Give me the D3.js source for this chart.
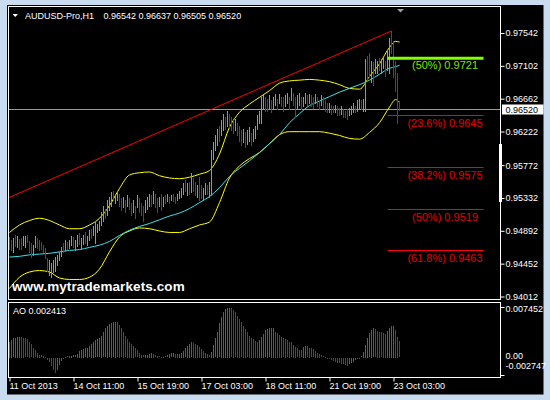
<!DOCTYPE html>
<html>
<head>
<meta charset="utf-8">
<script src="https://cdn.jsdelivr.net/npm/d3@7"></script>
<style>
  body { margin: 0; background: #c9dbee; }
  svg { display: block; }
</style>
</head>
<body>
<svg id="chart" width="550" height="400"></svg>
<script>
// ---- data -------------------------------------------------------------
const symbolName = "AUDUSD-Pro,H1";
const lastQuote = [0.96542, 0.96637, 0.96505, 0.96520]; // open, high, low, close

// hourly bar highs / lows, oldest first
const barHigh = [
  .9481,.9477,.9479,.9483,.9482,.9478,.9479,.9482,.9482,.9483,
  .9475,.9473,.9470,.9482,.9479,.9477,.9474,.9470,.9466,.9453,
  .9450,.9446,.9450,.9454,.9457,.9461,.9467,.9473,.9477,.9474,
  .9477,.9482,.9481,.9477,.9483,.9486,.9479,.9483,.9487,.9482,
  .9490,.9492,.9495,.9502,.9498,.9503,.9514,.9523,.9519,.9530,
  .9534,.9541,.9543,.9539,.9543,.9538,.9533,.9535,.9530,.9537,
  .9533,.9527,.9530,.9523,.9537,.9533,.9527,.9523,.9530,.9535,
  .9539,.9537,.9543,.9539,.9533,.9535,.9538,.9534,.9537,.9538,
  .9535,.9537,.9539,.9535,.9538,.9542,.9546,.9553,.9557,.9553,
  .9554,.9567,.9560,.9554,.9551,.9561,.9550,.9547,.9553,.9550,
  .9554,.9597,.9608,.9617,.9626,.9630,.9637,.9646,.9641,.9650,
  .9646,.9641,.9637,.9639,.9634,.9630,.9624,.9626,.9621,.9624,
  .9628,.9620,.9626,.9630,.9644,.9650,.9668,.9671,.9668,.9666,
  .9671,.9664,.9668,.9672,.9666,.9673,.9669,.9668,.9671,.9674,
  .9669,.9680,.9674,.9668,.9671,.9674,.9669,.9669,.9674,.9671,
  .9673,.9671,.9668,.9672,.9669,.9665,.9671,.9668,.9664,.9660,
  .9661,.9658,.9657,.9658,.9656,.9654,.9656,.9653,.9650,.9652,
  .9654,.9656,.9660,.9657,.9664,.9666,.9664,.9666,.9720,.9724,
  .9728,.9717,.9715,.9720,.9717,.9721,.9720,.9724,.9717,.9731,
  .9747,.9757,.9744,.9717,.9701,.96637
];
const barLow = [
  .9465,.9463,.9461,.9469,.9467,.9465,.9465,.9470,.9467,.9474,
  .9461,.9454,.9457,.9467,.9466,.9463,.9465,.9461,.9453,.9436,
  .9430,.9427,.9434,.9436,.9443,.9450,.9455,.9461,.9463,.9465,
  .9466,.9470,.9467,.9463,.9469,.9471,.9466,.9471,.9473,.9470,
  .9477,.9479,.9483,.9473,.9487,.9490,.9497,.9503,.9506,.9511,
  .9517,.9523,.9530,.9526,.9531,.9522,.9517,.9521,.9514,.9523,
  .9519,.9511,.9514,.9506,.9521,.9514,.9510,.9503,.9514,.9519,
  .9523,.9522,.9526,.9521,.9515,.9523,.9517,.9523,.9527,.9529,
  .9526,.9530,.9529,.9527,.9531,.9533,.9534,.9538,.9543,.9537,
  .9539,.9541,.9543,.9537,.9535,.9531,.9533,.9530,.9538,.9539,
  .9535,.9537,.9586,.9597,.9604,.9610,.9617,.9624,.9626,.9630,
  .9628,.9624,.9620,.9624,.9618,.9610,.9604,.9608,.9601,.9606,
  .9610,.9604,.9610,.9614,.9626,.9633,.9634,.9653,.9650,.9650,
  .9653,.9648,.9653,.9658,.9653,.9660,.9656,.9650,.9657,.9661,
  .9653,.9664,.9658,.9641,.9653,.9658,.9653,.9656,.9660,.9658,
  .9660,.9656,.9654,.9660,.9656,.9653,.9658,.9654,.9650,.9648,
  .9649,.9646,.9648,.9649,.9645,.9645,.9646,.9642,.9641,.9639,
  .9644,.9646,.9648,.9648,.9650,.9653,.9652,.9650,.9650,.9691,
  .9697,.9688,.9684,.9700,.9701,.9704,.9701,.9707,.9696,.9704,
  .9700,.9727,.9695,.9677,.9634,.96505
];
// u = bullish bar, d = bearish bar
const barSide = (
  "ddududduud" + "dduudddddd" + "uuuuuuudud" + "uuduuduudu" + "uduuuuuudu" +
  "uuduuddudu" + "ddududdduu" + "ududdududu" + "dudduuuudu" + "duddudduud" +
  "uuuuuduudu" + "dddudddudu" + "uduuuuuudd" + "uduududduu" + "dudduuduud" +
  "uddudduddd" + "uddudduddd" + "uuuduuduud" + "duduuduudu" + "uddddd"
).split("");

// Bollinger bands and moving average, read at these bar indices
const bandIdx = [0,5,10,15,20,25,30,35,40,45,50,55,60,65,70,75,80,85,90,95,
  100,105,110,115,120,125,130,135,140,145,150,155,160,165,170,175,180,185,190,193,195];
const bandUpper = [
  .9487,.9497,.9503,.9506,.9503,.9497,.9492,.9492,.9497,.9506,
  .9523,.9546,.9564,.9567,.9568,.9563,.9560,.9559,.9561,.9565,
  .9570,.9592,.9628,.9648,.9659,.9668,.9677,.9687,.9690,.9691,
  .9692,.9691,.9689,.9685,.9680,.9679,.9696,.9713,.9735,.9743,.9742];
const bandLower = [
  .9412,.9427,.9434,.9436,.9434,.9426,.9424,.9424,.9427,.9438,
  .9461,.9481,.9489,.9493,.9492,.9489,.9487,.9487,.9492,.9497,
  .9501,.9527,.9560,.9576,.9586,.9594,.9606,.9618,.9622,.9622,
  .9622,.9622,.9620,.9617,.9613,.9612,.9621,.9634,.9655,.9665,.9661];
const maLine = [
  .9454,.9455,.9457,.9458,.9459,.9461,.9463,.9464,.9467,.9470,
  .9475,.9483,.9490,.9495,.9499,.9504,.9509,.9513,.9519,.9527,
  .9535,.9547,.9562,.9573,.9583,.9594,.9606,.9618,.9634,.9646,
  .9657,.9663,.9669,.9675,.9680,.9685,.9691,.9699,.9707,.9709,.9711];

// Awesome Oscillator, one value per bar
const aoValues = [
  0.00236,0.00261,0.00286,0.00296,0.00306,0.00310,0.00306,0.00296,0.00286,0.00271,
  0.00236,0.00197,0.00146,0.00107,0.00067,0.00047,0.00037,0.00027,0.00007,-0.00023,
  -0.00063,-0.00112,-0.00171,-0.00220,-0.00182,-0.00101,-0.00042,-0.00012,0.00007,0.00018,
  0.00023,0.00027,0.00033,0.00037,0.00057,0.00097,0.00112,0.00127,0.00137,0.00146,
  0.00167,0.00206,0.00236,0.00256,0.00271,0.00286,0.00324,0.00376,0.00436,0.00474,
  0.00494,0.00514,0.00524,0.00534,0.00524,0.00484,0.00436,0.00384,0.00316,0.00276,
  0.00236,0.00206,0.00176,0.00137,0.00107,0.00067,0.00047,0.00037,0.00042,0.00047,
  0.00057,0.00077,0.00057,0.00037,0.00027,0.00018,0.00012,0.00013,0.00018,0.00037,
  0.00057,0.00063,0.00064,0.00057,0.00053,0.00057,0.00077,0.00097,0.00137,0.00176,
  0.00206,0.00227,0.00225,0.00206,0.00186,0.00157,0.00127,0.00097,0.00077,0.00057,
  0.00037,0.00087,0.00186,0.00286,0.00384,0.00510,0.00608,0.00683,0.00723,0.00737,
  0.007452,0.00733,0.00708,0.00674,0.00623,0.00574,0.00524,0.00474,0.00424,0.00376,
  0.00324,0.00296,0.00276,0.00246,0.00236,0.00266,0.00306,0.00354,0.00406,0.00424,
  0.00436,0.00438,0.00441,0.00384,0.00366,0.00336,0.00306,0.00286,0.00276,0.00256,
  0.00236,0.00227,0.00186,0.00157,0.00137,0.00116,0.00107,0.00157,0.00176,0.00167,
  0.00146,0.00137,0.00123,0.00097,0.00077,0.00057,0.00037,0.00018,0.00007,-0.00007,
  -0.00012,-0.00027,-0.00042,-0.00063,-0.00071,-0.00077,-0.00087,-0.00093,-0.00101,-0.00112,
  -0.00093,-0.00071,-0.00053,-0.00033,-0.00018,-0.00003,0.00018,0.00087,0.00186,0.00296,
  0.00361,0.00410,0.00436,0.00420,0.00400,0.00384,0.00376,0.00366,0.00354,0.00394,
  0.00444,0.00470,0.00474,0.00410,0.00310,0.002413
];

const priceTicks = [0.97542, 0.97102, 0.96662, 0.96222, 0.95772, 0.95332, 0.94892, 0.94452, 0.94012];
const aoRange = [-0.002747, 0.007452];
const timeTickIdx = [0, 32, 64, 96, 128, 160, 192];
const timeTickLabels = ["11 Oct 2013", "14 Oct 11:00", "15 Oct 19:00", "17 Oct 03:00",
                        "18 Oct 11:00", "21 Oct 19:00", "23 Oct 03:00"];

// trend line anchors: [bar index, price]
const trendPts = [[0, 0.9534], [191, 0.9757]];
// Fibonacci retracement levels
const fibRatios = ["23.6%", "38.2%", "50%", "61.8%"];
const fibValues = [0.9645, 0.9575, 0.9519, 0.9463];
const fibSpan = [189, 237];
const fibGreenRatio = "50%";
const fibGreenValue = 0.9721;

// ---- layout ------------------------------------------------------------
const FONT = "'Liberation Sans', Arial, sans-serif";
const svg = d3.select("#chart");
const box = { left: 8.5, right: 500.5, top: 6.5, bottom: 299.5 };
const aoBox = { top: 302.5, bottom: 377.5 };

const x = d3.scaleLinear().domain([0, 195]).range([9.5, 399.5]);
const y = d3.scaleLinear().domain([0.94012, 0.97542]).range([296.5, 33]);
const yAO = d3.scaleLinear().domain(aoRange).range([376.2, 307.5]);

// window background
svg.append("rect").attr("width", 550).attr("height", 400).attr("fill", "#c9dbee");
svg.append("rect").attr("x", 7).attr("y", 5).attr("width", 536.5).attr("height", 389.5).attr("fill", "#000");

const defs = svg.append("defs");
defs.append("clipPath").attr("id", "mainClip").append("rect")
  .attr("x", box.left).attr("y", box.top).attr("width", box.right - box.left).attr("height", box.bottom - box.top);

const main = svg.append("g").attr("clip-path", "url(#mainClip)");

// bid line
main.append("line")
  .attr("x1", box.left).attr("x2", box.right)
  .attr("y1", Math.round(y(lastQuote[3])) + 0.5).attr("y2", Math.round(y(lastQuote[3])) + 0.5)
  .attr("stroke", "#9a9aa2").attr("stroke-width", 1);

// trend line
const trendSlope = (trendPts[1][1] - trendPts[0][1]) / (trendPts[1][0] - trendPts[0][0]);
const trendStart = -2;
main.append("line")
  .attr("x1", x(trendStart)).attr("y1", y(trendPts[0][1] + trendSlope * (trendStart - trendPts[0][0])))
  .attr("x2", x(trendPts[1][0])).attr("y2", y(trendPts[1][1]))
  .attr("stroke", "#ff0000").attr("stroke-width", 1);

// bands + moving average
const bandLine = vals => d3.line()
  .x((d, k) => x(bandIdx[k])).y(d => y(d))
  .curve(d3.curveMonotoneX)(vals);
main.append("path").attr("d", bandLine(bandUpper)).attr("fill", "none").attr("stroke", "#ffff00").attr("stroke-width", 1);
main.append("path").attr("d", bandLine(bandLower)).attr("fill", "none").attr("stroke", "#ffff00").attr("stroke-width", 1);
main.append("path").attr("d", bandLine(maLine)).attr("fill", "none").attr("stroke", "#40e0e8").attr("stroke-width", 1);

// price bars
main.append("g").selectAll("rect").data(barHigh).join("rect")
  .attr("x", (d, i) => x(i) - 0.5)
  .attr("width", 1)
  .attr("y", d => Math.round(y(d)))
  .attr("height", (d, i) => Math.max(1, Math.round(y(barLow[i])) - Math.round(y(d)) + 1))
  .attr("fill", (d, i) => barSide[i] === "u" ? "#00ff00" : "#ff0000")
  .attr("shape-rendering", "crispEdges");

// Fibonacci levels
const fibG = svg.append("g");
const fx0 = x(fibSpan[0]), fx1 = x(fibSpan[1]);
fibValues.forEach((v, k) => {
  const ly = Math.round(y(v)) + 0.5;
  fibG.append("line").attr("x1", fx0).attr("x2", fx1).attr("y1", ly).attr("y2", ly)
    .attr("stroke", "#ff0000").attr("stroke-width", 1);
  fibG.append("text").attr("x", fx1 - 38.5).attr("y", ly + 11)
    .attr("text-anchor", "middle").attr("font-family", FONT).attr("font-size", 11)
    .attr("fill", "#e80000").text(`(${fibRatios[k]}) ${v.toFixed(4)}`);
});
{
  const gy = y(fibGreenValue) + 0.5;
  fibG.append("line").attr("x1", fx0).attr("x2", fx1).attr("y1", gy).attr("y2", gy)
    .attr("stroke", "#7fff00").attr("stroke-width", 3);
  fibG.append("text").attr("x", fx1 - 38.5).attr("y", gy + 11)
    .attr("text-anchor", "middle").attr("font-family", FONT).attr("font-size", 11)
    .attr("fill", "#7fe000").text(`(${fibGreenRatio}) ${fibGreenValue.toFixed(4)}`);
}

// watermark
svg.append("text").attr("x", 12).attr("y", 291)
  .attr("font-family", FONT).attr("font-size", 13.5).attr("font-weight", "bold")
  .attr("letter-spacing", 0.1).attr("fill", "#ffffff").text("www.mytrademarkets.com");

// title
svg.append("path").attr("d", "M12.5,14 L18,14 L15.25,17 Z").attr("fill", "#ffffff");
svg.append("text").attr("x", 25).attr("y", 19)
  .attr("font-family", FONT).attr("font-size", 9).attr("fill", "#ffffff").text(symbolName);
svg.append("text").attr("x", 103.5).attr("y", 19)
  .attr("font-family", FONT).attr("font-size", 9).attr("fill", "#ffffff")
  .text(lastQuote.map(v => v.toFixed(5)).join(" "));

// chart shift marker
svg.append("path")
  .attr("d", `M${x(195) - 2.5},9 L${x(195) + 4.5},9 L${x(195) + 1},12.5 Z`)
  .attr("fill", "#a0a0a0");

// price axis
const yAxis = d3.axisRight(y).tickValues(priceTicks).tickSize(4).tickPadding(1)
  .tickFormat(d3.format(".5f"));
svg.append("g").attr("transform", `translate(${box.right},0)`).call(yAxis)
  .call(g => g.select(".domain").remove())
  .call(g => g.selectAll("line").attr("stroke", "#ffffff"))
  .call(g => g.selectAll("text").attr("fill", "#ffffff").attr("font-size", 9).attr("font-family", FONT));

// scale bar on the price axis
svg.append("rect").attr("x", 499).attr("y", 144).attr("width", 3).attr("height", 58).attr("fill", "#ffffff");

// current price tag
{
  const cy = Math.round(y(lastQuote[3])) + 0.5;
  svg.append("rect").attr("x", 502).attr("y", cy - 5).attr("width", 41.5).attr("height", 10).attr("fill", "#ffffff");
  svg.append("text").attr("x", 505.5).attr("y", cy).attr("dy", "0.34em")
    .attr("font-family", FONT).attr("font-size", 9).attr("fill", "#000").text(lastQuote[3].toFixed(5));
}

// AO histogram
const aoG = svg.append("g");
aoG.selectAll("rect").data(aoValues).join("rect")
  .attr("x", (d, i) => x(i) - 0.5)
  .attr("width", 1)
  .attr("y", d => Math.round(Math.min(yAO(d), yAO(0))))
  .attr("height", d => Math.max(1, Math.round(Math.abs(yAO(d) - yAO(0)))))
  .attr("fill", (d, i) => (i === 0 || d > aoValues[i - 1]) ? "#00a000" : "#ff0000")
  .attr("shape-rendering", "crispEdges");

svg.append("text").attr("x", 13).attr("y", 314)
  .attr("font-family", FONT).attr("font-size", 9).attr("fill", "#ffffff")
  .text("AO " + aoValues[aoValues.length - 1].toFixed(6));

// AO axis labels
const aoLabels = [
  { v: aoRange[1], t: aoRange[1].toFixed(6), dy: 1.8 },
  { v: 0, t: "0.00", dy: -1.4 },
  { v: aoRange[0], t: aoRange[0].toFixed(6), dy: -10.2 }
];
aoLabels.forEach(a => {
  svg.append("text").attr("x", 505.5).attr("y", yAO(a.v) + a.dy).attr("dy", "0.34em")
    .attr("font-family", FONT).attr("font-size", 9).attr("fill", "#ffffff").text(a.t);
});
[aoRange[1], aoRange[0]].forEach(v => {
  const ty = Math.round(yAO(v)) - 0.5;
  svg.append("line").attr("x1", box.right).attr("x2", box.right + 4).attr("y1", ty).attr("y2", ty)
    .attr("stroke", "#ffffff");
});

// time axis
const xAxis = d3.axisBottom(x).tickValues(timeTickIdx).tickSize(4).tickPadding(1.5)
  .tickFormat((d, k) => timeTickLabels[k]);
svg.append("g").attr("transform", `translate(0,${aoBox.bottom})`).call(xAxis)
  .call(g => g.select(".domain").remove())
  .call(g => g.selectAll("line").attr("stroke", "#ffffff"))
  .call(g => g.selectAll("text").attr("fill", "#ffffff").attr("font-size", 9)
    .attr("font-family", FONT).attr("text-anchor", "start").attr("x", -0.5));

// window borders
svg.append("rect").attr("x", box.left).attr("y", box.top)
  .attr("width", box.right - box.left).attr("height", box.bottom - box.top)
  .attr("fill", "none").attr("stroke", "#ffffff").attr("stroke-width", 1);
svg.append("rect").attr("x", box.left).attr("y", aoBox.top)
  .attr("width", box.right - box.left).attr("height", aoBox.bottom - aoBox.top)
  .attr("fill", "none").attr("stroke", "#ffffff").attr("stroke-width", 1);
</script>
</body>
</html>
